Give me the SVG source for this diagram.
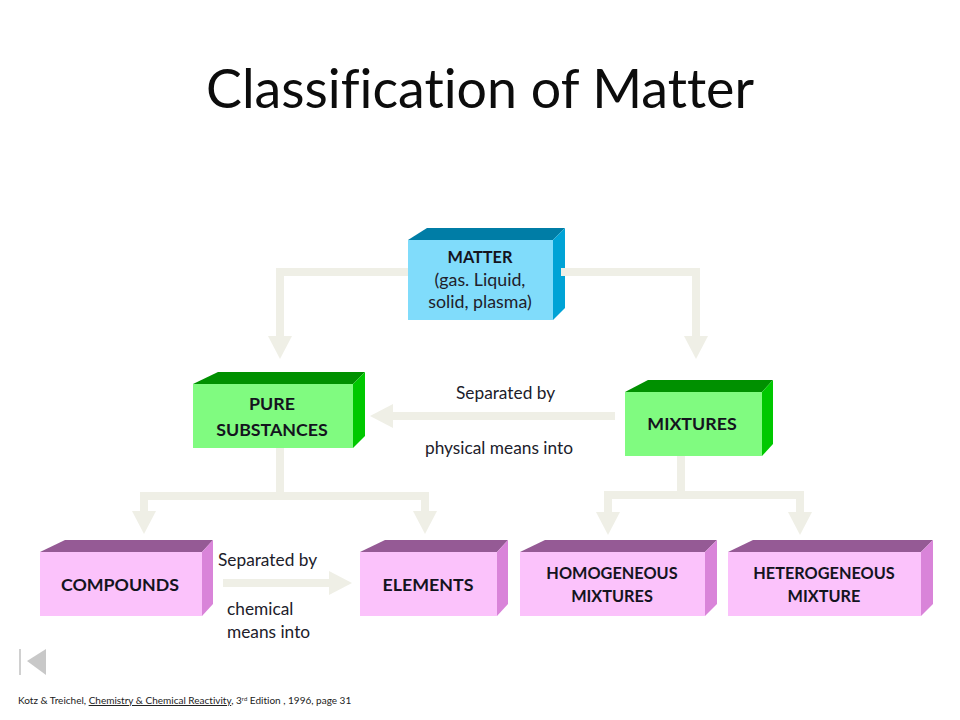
<svg xmlns="http://www.w3.org/2000/svg" width="960" height="720" viewBox="0 0 960 720">
<style>
text{font-family:"Lato","Open Sans","Liberation Sans",sans-serif;fill:#1a1a2a;font-variant-ligatures:none}
.t{font-size:54px;fill:#0c0c0c;text-anchor:middle}
.b{font-size:17.8px;font-weight:700;text-anchor:middle;fill:#14141e}
.s{font-size:16.3px}
.r{font-size:17.3px;fill:#20202a}
.c{text-anchor:middle}
.f{font-size:10px;fill:#222}
.conn{fill:none;stroke:#efefe6;stroke-width:8}
.pf{fill:#fbc2fb}.pt{fill:#955a95}.ps{fill:#d984d9}
.gf{fill:#80fb80}.gt{fill:#009000}.gs{fill:#00c800}
.bf{fill:#80dcfb}.bt{fill:#007da6}.bs{fill:#00a3d6}
</style>
<defs>
<marker id="head" markerUnits="userSpaceOnUse" markerWidth="24" markerHeight="24" refX="0" refY="12" orient="auto"><path d="M0 0L23 12L0 24Z" fill="#efefe6"/></marker>
</defs>
<rect width="960" height="720" fill="#fff"/>
<text class="t" x="480" y="108" textLength="548" lengthAdjust="spacingAndGlyphs">Classification of Matter</text>
<g id="matter"><path class="bt" d="M408 240L427 228H565L553 240Z"/><path class="bs" d="M553 240L565 228V308L553 320Z"/><rect class="bf" x="408" y="240" width="145" height="80"/>
<text class="b s" x="480" y="263">MATTER</text><text class="r c" x="480" y="286" style="font-size:17.8px">(gas. Liquid,</text><text class="r c" x="480" y="308" style="font-size:17.8px">solid, plasma)</text></g>
<g id="pure-substances"><path class="gt" d="M193 384L218 372H365L353 384Z"/><path class="gs" d="M353 384L365 372V436L353 448Z"/><rect class="gf" x="193" y="384" width="160" height="64"/>
<text class="b" x="272" y="410">PURE</text><text class="b" x="272" y="436">SUBSTANCES</text></g>
<g id="mixtures"><path class="gt" d="M625 392L648 380H773L762 392Z"/><path class="gs" d="M762 392L773 380V444L762 456Z"/><rect class="gf" x="625" y="392" width="137" height="64"/>
<text class="b" x="692" y="430">MIXTURES</text></g>
<g id="compounds"><path class="pt" d="M40 552L65 540H213L202 552Z"/><path class="ps" d="M202 552L213 540V604L202 616Z"/><rect class="pf" x="40" y="552" width="162" height="64"/>
<text class="b" x="120" y="591">COMPOUNDS</text></g>
<g id="elements"><path class="pt" d="M360 552L385 540H508L497 552Z"/><path class="ps" d="M497 552L508 540V604L497 616Z"/><rect class="pf" x="360" y="552" width="137" height="64"/>
<text class="b" x="428" y="591">ELEMENTS</text></g>
<g id="homogeneous"><path class="pt" d="M520 552L545 540H717L705 552Z"/><path class="ps" d="M705 552L717 540V604L705 616Z"/><rect class="pf" x="520" y="552" width="185" height="64"/>
<text class="b s" x="612" y="579">HOMOGENEOUS</text><text class="b s" x="612" y="602">MIXTURES</text></g>
<g id="heterogeneous"><path class="pt" d="M728 552L753 540H933L921 552Z"/><path class="ps" d="M921 552L933 540V604L921 616Z"/><rect class="pf" x="728" y="552" width="193" height="64"/>
<text class="b s" x="824" y="579">HETEROGENEOUS</text><text class="b s" x="824" y="602">MIXTURE</text></g>
<g id="connectors">
<path class="conn" marker-end="url(#head)" d="M408 272H280V336"/>
<path class="conn" marker-end="url(#head)" d="M561 272H696V336"/>
<path class="conn" marker-end="url(#head)" d="M615 416H393"/>
<path class="conn" d="M280 448V496"/>
<path class="conn" marker-end="url(#head)" d="M280 496H144V511"/>
<path class="conn" marker-end="url(#head)" d="M280 496H425V511"/>
<path class="conn" d="M681 456V495"/>
<path class="conn" marker-end="url(#head)" d="M681 495H608V512"/>
<path class="conn" marker-end="url(#head)" d="M681 495H800V512"/>
<path class="conn" marker-end="url(#head)" d="M223 583H329"/>
</g>
<text class="r" x="456" y="399">Separated by</text>
<text class="r" x="425" y="454">physical means into</text>
<text class="r" x="218" y="566">Separated by</text>
<text class="r" x="227" y="615">chemical</text>
<text class="r" x="227" y="638">means into</text>
<path d="M19 649h2v26h-2z" fill="#d0d0d0"/><path d="M27 661L46 649V675Z" fill="#c8c8c8"/>
<text class="f" x="18" y="704">Kotz &amp; Treichel, <tspan text-decoration="underline">Chemistry &amp; Chemical Reactivity</tspan>,  3<tspan font-size="6" dy="-3">rd</tspan><tspan dy="3"> Edition , 1996, page 31</tspan></text>
</svg>
